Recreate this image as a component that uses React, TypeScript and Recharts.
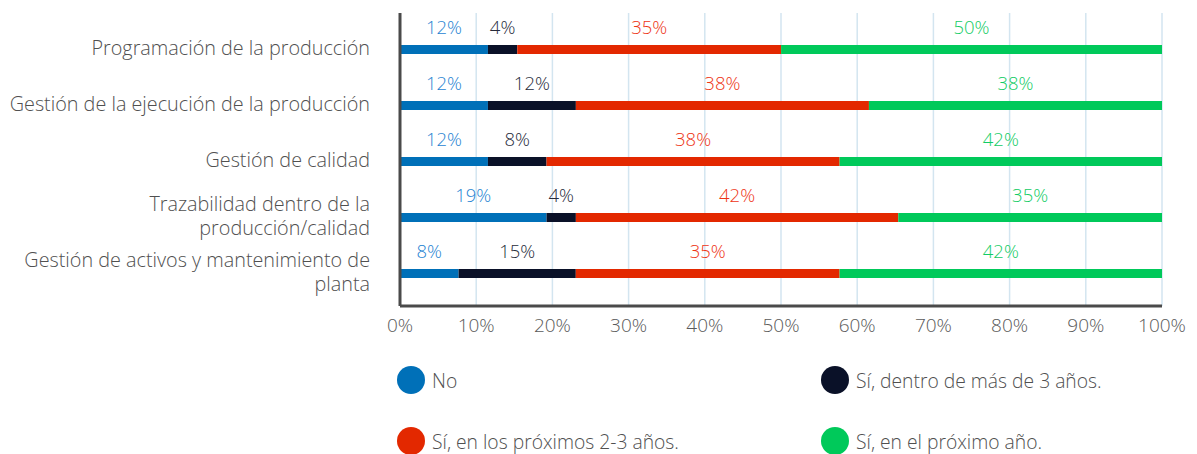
import React from "react";
import { BarChart, Bar, XAxis, YAxis, CartesianGrid, LabelList, Legend } from "recharts";

const categories = [
  "Programación de la producción",
  "Gestión de la ejecución de la producción",
  "Gestión de calidad",
  "Trazabilidad dentro de la\nproducción/calidad",
  "Gestión de activos y mantenimiento de\nplanta",
];
const noValues = [11.54, 11.54, 11.54, 19.23, 7.69];
const masDe3Values = [3.85, 11.54, 7.69, 3.85, 15.38];
const proximos23Values = [34.62, 38.46, 38.46, 42.31, 34.62];
const proximoAnoValues = [50.0, 38.46, 42.31, 34.62, 42.31];
const xTicks = [0, 10, 20, 30, 40, 50, 60, 70, 80, 90, 100];

const seriesNames = [
  "No",
  "Sí, dentro de más de 3 años.",
  "Sí, en los próximos 2-3 años.",
  "Sí, en el próximo año.",
];
const seriesKeys = ["no", "mas3", "prox23", "prox1"];
const barColors = ["#0070b8", "#0a1128", "#e32800", "#00c95a"];
const labelColors = ["#1f84d2", "#262b3a", "#ee3414", "#12cc64"];

const data = categories.map((c, i) => ({
  category: c,
  no: noValues[i],
  mas3: masDe3Values[i],
  prox23: proximos23Values[i],
  prox1: proximoAnoValues[i],
}));

const FONT = "'Open Sans', sans-serif";

const CategoryTick = (props: any) => {
  const { x, y, payload } = props;
  const lines = String(payload.value).split("\n");
  const lh = 24.5;
  return (
    <g>
      {lines.map((ln: string, i: number) => (
        <text
          key={i}
          x={x}
          y={y + (i - (lines.length - 1) / 2) * lh}
          dy="0.3em"
          textAnchor="end"
          fill="#505050"
          fontSize={19.8}
          fontWeight={300}
          fontFamily={FONT}
        >
          {ln}
        </text>
      ))}
    </g>
  );
};

const makeLabel = (color: string) => (props: any) => {
  const { x, y, width, value } = props;
  return (
    <text
      x={x + width / 2}
      y={y - 11}
      textAnchor="middle"
      fill={color}
      fontSize={18.5}
      fontWeight={300}
      fontFamily={FONT}
    >
      {`${Math.round(value)}%`}
    </text>
  );
};

const LegendContent = () => {
  const pos = [
    { left: 397, top: 6 },
    { left: 821, top: 6 },
    { left: 397, top: 67 },
    { left: 821, top: 67 },
  ];
  return (
    <div style={{ position: "relative", width: 1197, height: 100 }}>
      {seriesNames.map((n, i) => (
        <div
          key={n}
          style={{
            position: "absolute",
            left: pos[i].left,
            top: pos[i].top,
            display: "flex",
            alignItems: "center",
            fontFamily: FONT,
            fontSize: 19.3,
            fontWeight: 300,
            color: "#505050",
            whiteSpace: "nowrap",
          }}
        >
          <span
            style={{
              display: "inline-block",
              width: 28,
              height: 28,
              borderRadius: 14,
              background: barColors[i],
              marginRight: 7,
            }}
          />
          <span>{n}</span>
        </div>
      ))}
    </div>
  );
};

export default function App() {
  return (
    <div style={{ position: "absolute", left: 0, top: 0, width: 1197, height: 454, background: "#fff" }}>
      <BarChart
        width={1197}
        height={454}
        data={data}
        layout="vertical"
        margin={{ top: 13, right: 35, bottom: 118, left: 0 }}
      >
        <CartesianGrid horizontal={false} vertical={true} stroke="#d3e5f0" strokeWidth={1.5} />
        <XAxis
          type="number"
          domain={[0, 100]}
          allowDataOverflow
          ticks={xTicks}
          tickFormatter={(v: number) => `${v}%`}
          tick={{ fill: "#5a5a5a", fontSize: 19, fontWeight: 300, fontFamily: FONT }}
          tickLine={false}
          tickMargin={7}
          axisLine={{ stroke: "#4a4a4a", strokeWidth: 3 }}
        />
        <YAxis
          type="category"
          dataKey="category"
          width={400}
          tick={<CategoryTick />}
          tickLine={false}
          tickMargin={24}
          axisLine={{ stroke: "#4a4a4a", strokeWidth: 3 }}
          padding={{ top: 8, bottom: 5 }}
          interval={0}
        />
        {seriesKeys.map((k, i) => (
          <Bar
            key={k}
            dataKey={k}
            name={seriesNames[i]}
            stackId="a"
            fill={barColors[i]}
            barSize={9}
            isAnimationActive={false}
          >
            <LabelList dataKey={k} content={makeLabel(labelColors[i])} />
          </Bar>
        ))}
        <Legend
          layout="horizontal"
          align="center"
          verticalAlign="middle"
          wrapperStyle={{ left: 0, top: 360, width: 1197, height: 100 }}
          content={<LegendContent />}
        />
      </BarChart>
    </div>
  );
}
